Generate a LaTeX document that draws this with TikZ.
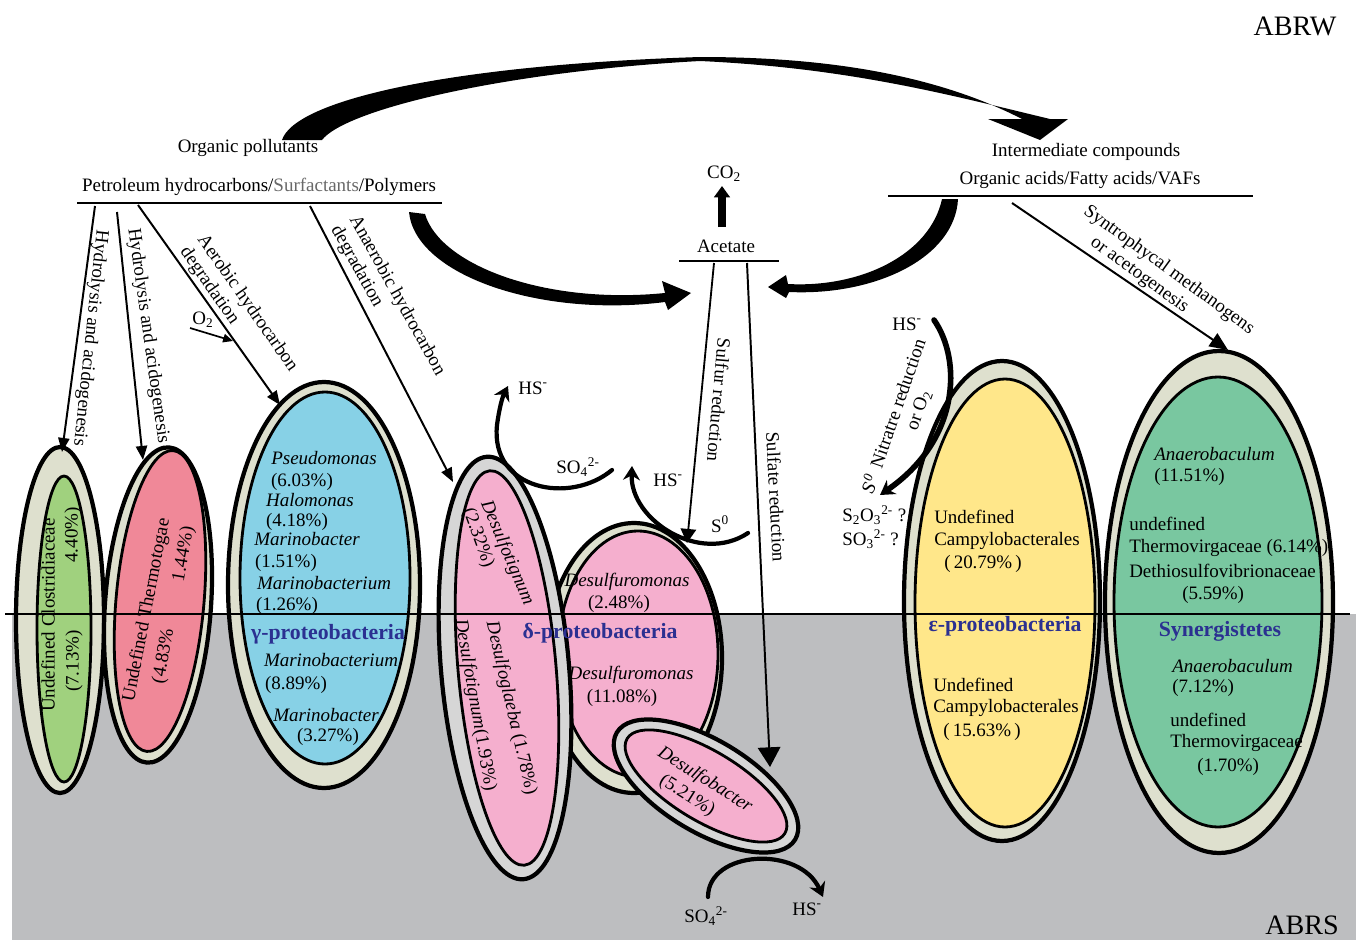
\documentclass[tikz,border=0pt]{standalone}
\usepackage{fontspec}
\setmainfont{Liberation Serif}
\usetikzlibrary{arrows.meta}
\definecolor{bggray}{RGB}{189,190,192}
\definecolor{beige}{RGB}{222,224,206}
\definecolor{ringgray}{RGB}{214,214,214}
\definecolor{cgreen}{RGB}{160,209,126}
\definecolor{cred}{RGB}{240,136,152}
\definecolor{cblue}{RGB}{135,209,230}
\definecolor{cpink}{RGB}{245,175,206}
\definecolor{cyellow}{RGB}{255,231,138}
\definecolor{cteal}{RGB}{121,199,160}
\definecolor{labblue}{RGB}{43,48,145}
\definecolor{txtgray}{RGB}{105,105,105}
\tikzset{
  txt/.style={inner sep=0pt, font=\fontsize{13.5}{15}\selectfont},
  it/.style={inner sep=0pt, font=\fontsize{13.5}{15}\selectfont\itshape},
  grp/.style={inner sep=0pt, font=\fontsize{15.5}{17}\selectfont\bfseries, text=labblue},
  big/.style={inner sep=0pt, font=\fontsize{20}{24}\selectfont},
  outerring/.style={draw=black, line width=3pt, fill=#1},
  innercore/.style={draw=black, line width=2pt, fill=#1},
  flow/.style={draw=black, line width=1.4pt, -{Triangle[width=8pt,length=10pt]}},
  bigflow/.style={draw=black, line width=1.4pt, -{Triangle[width=16pt,length=14pt]}},
  sarrow/.style={draw=black, line width=3pt, line cap=round, -{Stealth[width=12pt,length=10pt]}},
  baseline/.style={draw=black, line width=1pt},
}
\begin{document}
\begin{tikzpicture}[x=0.025cm,y=-0.025cm]
\useasboundingbox (0,0) rectangle (1356,940);
\fill[white] (0,0) rectangle (1356,940);
\fill[bggray] (12,614) rectangle (1356,940);

% ---------- ellipses ----------
% green
\draw[outerring=beige] (60,620) ellipse [x radius=44, y radius=173];
\draw[innercore=cgreen] (64,629) ellipse [x radius=27, y radius=153];
% red
\draw[outerring=beige, rotate around={-4:(158,605)}] (158,605) ellipse [x radius=53, y radius=158];
\draw[innercore=cred, rotate around={-5:(160,601)}] (160,601) ellipse [x radius=44, y radius=151];
% blue
\draw[outerring=beige] (324,585) ellipse [x radius=96, y radius=203];
\draw[innercore=cblue] (325,578) ellipse [x radius=85, y radius=186];
% delta circle
\draw[outerring=beige] (634,658) ellipse [x radius=88, y radius=135];
\draw[innercore=cpink] (638,654) ellipse [x radius=80, y radius=123];
% delta tall
\draw[outerring=ringgray, rotate around={5:(505,668)}] (505,668) ellipse [x radius=64, y radius=212];
\draw[innercore=cpink, rotate around={5:(507,668)}] (507,668) ellipse [x radius=49, y radius=198];
% Desulfobacter
\draw[outerring=ringgray, rotate around={-31:(706,786)}] (706,786) ellipse [x radius=104, y radius=46];
\draw[innercore=cpink, rotate around={-31:(706,786)}] (706,786) ellipse [x radius=92, y radius=35];
% yellow
\draw[outerring=beige] (1002,601) ellipse [x radius=98, y radius=240];
\draw[innercore=cyellow] (1005,603) ellipse [x radius=90, y radius=224];
% teal
\draw[outerring=beige] (1219,602) ellipse [x radius=114, y radius=251];
\draw[innercore=cteal] (1218,602) ellipse [x radius=104, y radius=225];

% water line
\coordinate (wl) at (5,614);
\coordinate (wr) at (1350,614);
\draw[line width=1.8pt] (wl) -- (wr);

% ---------- zone labels ----------
\node[big] (abrw) at (1295,26) {ABRW};
\node[big] (abrs) at (1302,925) {ABRS};

% ---------- top labels ----------
\node[txt] (org) at (248,148) {Organic pollutants};
\node[txt] (pet) at (259,187) {Petroleum hydrocarbons/{\color{txtgray}Surfactants}/Polymers};
\coordinate (petL) at (77,203);
\coordinate (petR) at (442,203);
\draw[baseline] (petL) -- (petR);

\node[txt] (inter1) at (1086,152) {Intermediate compounds};
\node[txt] (inter2) at (1080,180) {Organic acids/Fatty acids/VAFs};
\coordinate (intL) at (888,196);
\coordinate (intR) at (1253,196);
\draw[baseline] (intL) -- (intR);

\node[txt] (acet) at (726,246) {Acetate};
\coordinate (acL) at (679,261);
\coordinate (acR) at (779,261);
\draw[line width=1.5pt] (acL) -- (acR);

\node[txt] (co2) at (724,174) {CO\textsubscript{2}};
\coordinate (co2s) at (722,227);
\coordinate (co2t) at (722,186);
\draw[line width=6pt, -{Triangle[width=11pt,length=8pt]}] (co2s) -- (co2t);

% ---------- big curved arrows ----------
\fill (282,140) .. controls (295,100) and (450,65) .. (700,57)
      .. controls (850,57) and (950,82) .. (1022,119)
      -- (988,119) -- (1040,140) -- (1068,119) -- (1050,119)
      .. controls (950,95) and (850,68) .. (700,61)
      .. controls (500,72) and (345,110) .. (322,140) -- cycle;

\fill (409,212) .. controls (415,275) and (540,318) .. (665,302)
      -- (668,310) -- (691,293) -- (662,281) -- (665,293)
      .. controls (545,305) and (440,265) .. (425,214) -- cycle;

\fill (942,199) .. controls (930,255) and (860,288) .. (788,284)
      -- (786,275) -- (768,287) -- (786,298) -- (789,292)
      .. controls (875,296) and (955,258) .. (958,199) -- cycle;

% ---------- straight arrows from petroleum line ----------
\coordinate (a1s) at (95,206);  \coordinate (a1t) at (62,452);
\coordinate (a2s) at (117,212); \coordinate (a2t) at (143,460);
\coordinate (a3s) at (138,205); \coordinate (a3t) at (280,405);
\coordinate (a4s) at (310,206); \coordinate (a4t) at (453,482);
\draw[flow] (a1s) -- (a1t);
\draw[flow] (a2s) -- (a2t);
\draw[flow] (a3s) -- (a3t);
\draw[flow] (a4s) -- (a4t);
\node[txt, rotate=-96] (hyd1) at (90,338) {Hydrolysis and acidogenesis};
\node[txt, rotate=-82] (hyd2) at (148,336) {Hydrolysis and acidogenesis};
\node[txt, align=left, anchor=west, rotate=-55] (aer) at (192,243) {Aerobic hydrocarbon\\degradation};
\node[txt, align=left, anchor=west, rotate=-61] (ana) at (344,222) {Anaerobic hydrocarbon\\degradation};
\node[txt] (o2) at (203,320) {O\textsubscript{2}};
\coordinate (o2s) at (190,328); \coordinate (o2t) at (233,341);
\draw[line width=1.2pt, -{Triangle[width=6pt,length=7pt]}] (o2s) -- (o2t);

% ---------- acetate arrows ----------
\coordinate (sus) at (714,263); \coordinate (sut) at (687,543);
\coordinate (sas) at (747,263); \coordinate (sat) at (770,767);
\draw[draw=black, line width=1.3pt, -{Triangle[width=11pt,length=10pt]}] (sus) -- (sut);
\draw[bigflow] (sas) -- (sat);
\node[txt, rotate=-95] (sulfur) at (719,400) {Sulfur reduction};
\node[txt, rotate=-87] (sulfate) at (776,497) {Sulfate reduction};

% ---------- syntrophic arrow ----------
\coordinate (sys) at (1012,203); \coordinate (syt) at (1228,350);
\draw[draw=black, line width=1.4pt, -{Triangle[width=11pt,length=13pt]}] (sys) -- (syt);
\node[txt, align=left, anchor=west, rotate=-36] (syn) at (1079,218) {Syntrophycal methanogens\\\hspace*{17pt}or acetogenesis};

% ---------- sulfur cycling arrows ----------
\node[txt] (hs1) at (533,388) {HS\textsuperscript{-}};
\node[txt] (so41) at (578,467) {SO\textsubscript{4}\textsuperscript{2-}};
\coordinate (c1s) at (612,470); \coordinate (c1t) at (508,386);
\draw[sarrow] (c1s) .. controls (570,505) and (490,490) .. (497,425) .. controls (499,410) and (502,398) .. (c1t);

\node[txt] (hs2) at (668,480) {HS\textsuperscript{-}};
\node[txt] (s0a) at (720,524) {S\textsuperscript{0}};
\coordinate (c2s) at (748,533); \coordinate (c2t) at (632,466);
\draw[sarrow] (c2s) .. controls (700,565) and (630,520) .. (c2t);

\node[txt] (so42) at (706,916) {SO\textsubscript{4}\textsuperscript{2-}};
\node[txt] (hs4) at (807,909) {HS\textsuperscript{-}};
\coordinate (c3s) at (708,897); \coordinate (c3t) at (823,897);
\draw[sarrow] (c3s) .. controls (708,850) and (800,845) .. (c3t);

\node[txt] (hs3) at (907,324) {HS\textsuperscript{-}};
\coordinate (c4s) at (934,320); \coordinate (c4t) at (880,495);
\draw[sarrow, line width=4pt] (c4s) .. controls (962,360) and (960,440) .. (c4t);
\node[txt, align=center, rotate=71] (nitr) at (909,407) {Nitratre reduction\\or O\textsubscript{2}};
\node[txt, rotate=62] (s0b) at (869,484) {S\textsuperscript{0}};
\node[txt, anchor=west] (s2o3) at (842,515) {S\textsubscript{2}O\textsubscript{3}\textsuperscript{2-} ?};
\node[txt, anchor=west] (so3) at (842,539) {SO\textsubscript{3}\textsuperscript{2-} ?};

% ---------- green / red texts ----------
\node[txt, rotate=90] (clo) at (48,615) {Undefined Clostridiaceae};
\node[txt, rotate=90] (clo1) at (73,535) {4.40\%)};
\node[txt, rotate=90] (clo2) at (74,661) {(7.13\%)};
\node[txt, rotate=79] (the) at (147,610) {Undefined Thermotogae};
\node[txt, rotate=80] (the1) at (184,554) {1.44\%)};
\node[txt, rotate=80] (the2) at (164,656) {(4.83\%};

% ---------- gamma texts ----------
\node[it] (g1) at (324,458) {Pseudomonas};
\node[txt] (g1p) at (302,482) {(6.03\%)};
\node[it] (g2) at (310,500) {Halomonas};
\node[txt] (g2p) at (297,522) {(4.18\%)};
\node[it] (g3) at (307,539) {Marinobacter};
\node[txt] (g3p) at (286,563) {(1.51\%)};
\node[it] (g4) at (324,583) {Marinobacterium};
\node[txt] (g4p) at (287,606) {(1.26\%)};
\node[grp] (gamma) at (328,634) {γ-proteobacteria};
\node[it] (g5) at (331,660) {Marinobacterium};
\node[txt] (g5p) at (296,685) {(8.89\%)};
\node[it] (g6) at (326,715) {Marinobacter};
\node[txt] (g6p) at (328,737) {(3.27\%)};

% ---------- delta texts ----------
\node[it, rotate=-67] (d1) at (507,553) {Desulfotignum};
\node[txt, rotate=-70] (d1p) at (478,538) {(2.32\%)};
\node[txt, rotate=-77] (d2) at (511,708) {\textit{Desulfoglaeba} (1.78\%)};
\node[txt, rotate=-80] (d3) at (475,705) {\textit{Desulfotignum}(1.93\%)};
\node[it] (d4) at (627,582) {Desulfuromonas};
\node[txt] (d4p) at (619,604) {(2.48\%)};
\node[grp] (delta) at (600,633) {δ-proteobacteria};
\node[it] (d5) at (631,675) {Desulfuromonas};
\node[txt] (d5p) at (622,698) {(11.08\%)};
\node[it, rotate=-32] (d6) at (705,780) {Desulfobacter};
\node[txt, rotate=-32] (d6p) at (687,796) {(5.21\%)};

% ---------- epsilon texts ----------
\node[txt, anchor=west] (y1) at (934,517) {Undefined};
\node[txt, anchor=west] (y2) at (934,541) {Campylobacterales};
\node[txt, anchor=west] (y3) at (944,564) {(\,20.79\%\,)};
\node[grp] (eps) at (1005,626) {ε-proteobacteria};
\node[txt, anchor=west] (y4) at (933,685) {Undefined};
\node[txt, anchor=west] (y5) at (933,708) {Campylobacterales};
\node[txt, anchor=west] (y6) at (943,732) {(\,15.63\%\,)};

% ---------- synergistetes texts ----------
\node[it, anchor=west] (t1) at (1154,454) {Anaerobaculum};
\node[txt, anchor=west] (t2) at (1154,477) {(11.51\%)};
\node[txt, anchor=west] (t3) at (1129,524) {undefined};
\node[txt, anchor=west] (t4) at (1129,548) {Thermovirgaceae (6.14\%)};
\node[txt, anchor=west] (t5) at (1129,571) {Dethiosulfovibrionaceae};
\node[txt, anchor=west] (t6) at (1182,595) {(5.59\%)};
\node[grp] (syng) at (1220,631) {Synergistetes};
\node[it, anchor=west] (t7) at (1172,666) {Anaerobaculum};
\node[txt, anchor=west] (t8) at (1172,688) {(7.12\%)};
\node[txt, anchor=west] (t9) at (1170,720) {undefined};
\node[txt, anchor=west] (t10) at (1170,743) {Thermovirgaceae};
\node[txt, anchor=west] (t11) at (1197,767) {(1.70\%)};
\end{tikzpicture}
\end{document}
